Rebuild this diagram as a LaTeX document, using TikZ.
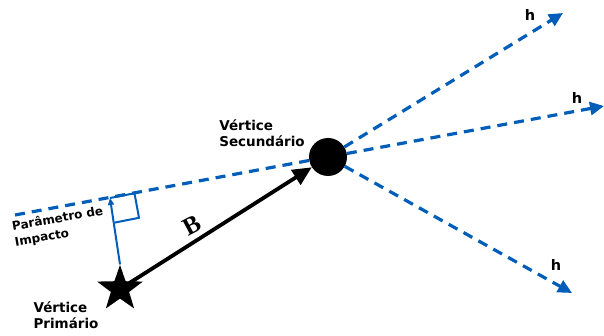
\documentclass[tikz,border=0pt]{standalone}
\usepackage{fontspec}
\setsansfont{DejaVu Sans}
\newfontfamily\bserif{Liberation Serif}
\usetikzlibrary{shapes.geometric,arrows.meta,calc}
\definecolor{hblue}{RGB}{0,94,184}
\begin{document}
\begin{tikzpicture}[x=1pt,y=-1pt,
  lbl/.style={font=\sffamily\bfseries\fontsize{13.5}{16}\selectfont, align=left, inner sep=0pt},
  hlbl/.style={font=\sffamily\bfseries\fontsize{14.5}{16}\selectfont, inner sep=0pt},
  track/.style={hblue, line width=3.2pt, dash pattern=on 10pt off 7pt},
  htrack/.style={track, -{Triangle[length=14pt,width=13pt]}},
  perp/.style={hblue, line width=2pt}]
\useasboundingbox (0,0) rectangle (604,336);
% vertices
\node[circle, fill=black, minimum size=38pt, inner sep=0pt] (sv) at (328,157) {};
\node[star, star points=5, star point ratio=2.5, fill=black, minimum size=48pt, inner sep=0pt] (pv) at (120,289) {};
% dashed incoming line
\coordinate (a) at (15,215);
\draw[track] (a) -- (sv);
% outgoing h tracks
\coordinate (h1) at (563,13);
\coordinate (h2) at (604,106);
\coordinate (h3) at (572,293);
\draw[htrack] (sv) -- (h1);
\draw[htrack] (sv) -- (h2);
\draw[htrack] (sv) -- (h3);
\node[hlbl] (l1) at (530,15) {h};
\node[hlbl] (l2) at (577,98) {h};
\node[hlbl] (l3) at (556,265) {h};
% impact parameter
\coordinate (foot) at (110,198);
\coordinate (q1) at (134.5,193.3);
\coordinate (q2) at (139,217.8);
\coordinate (q3) at (114.7,222.6);
\draw[perp, -{Triangle[length=7pt,width=6pt]}] (pv.north) -- (foot);
\draw[perp] (foot) -- (q1) -- (q2) -- (q3);
% B vector
\draw[line width=3.8pt, -{Triangle[length=19pt,width=17pt]}] (pv.center) -- (sv);
\node[font=\bserif\fontsize{25}{25}\selectfont\bfseries, rotate=28] (B) at (192,225) {B};
% labels
\node[lbl] (tsv) at (262,133) {Vértice\\Secundário};
\node[lbl] (tpv) at (66,315) {Vértice\\Primário};
\node[lbl, font=\sffamily\bfseries\fontsize{12}{16}\selectfont, rotate=10] (tip) at (59,227) {Parâmetro de\\Impacto};
\end{tikzpicture}
\end{document}
